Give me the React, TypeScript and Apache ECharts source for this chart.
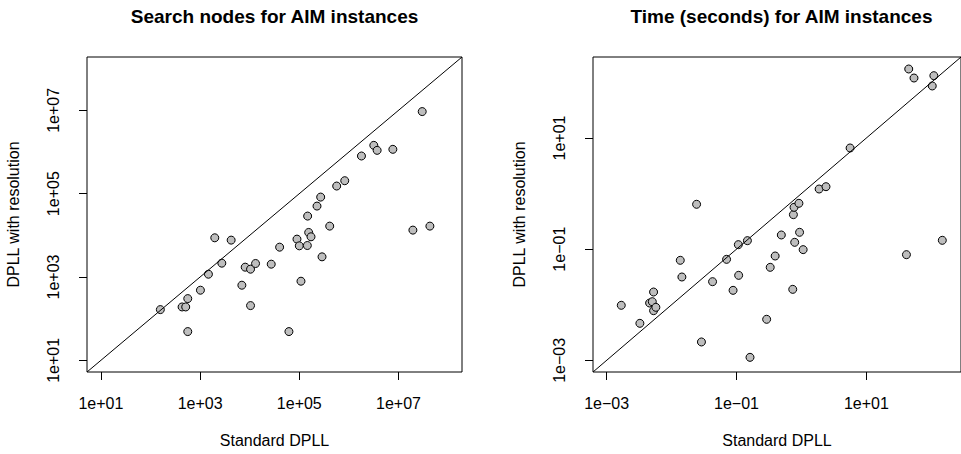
import React, { useEffect, useRef } from "react";
import * as echarts from "echarts";

// Search nodes (left panel): Standard DPLL vs DPLL with resolution
const nodesStandard = [
  158, 433, 513, 564, 564, 1016, 1472, 1977, 2742, 4227, 6950, 8110, 10400, 10400,
  13120, 27160, 40090, 61800, 89740, 100000, 108100, 145200, 147200, 154500, 172200,
  227500, 269800, 287100, 410200, 567500, 824100, 1791000, 3177000, 3707000, 7691000,
  19500000, 30060000, 42950000,
];
const nodesResolution = [
  165, 191, 191, 303, 49, 482, 1167, 8730, 2148, 7674, 635, 1722, 1542, 206,
  2109, 2032, 5200, 49, 8110, 5598, 792, 5702, 28970, 11720, 9226,
  50350, 82790, 3048, 16630, 152400, 204600, 801700, 1445000, 1096000, 1159000,
  13340, 9333000, 16630,
];

// Time in seconds (right panel)
const timeStandard = [
  0.00168, 0.00325, 0.00459, 0.00505, 0.00528, 0.00528, 0.00573, 0.01361, 0.01442,
  0.02427, 0.02884, 0.04276, 0.0703, 0.0885, 0.1067, 0.1079, 0.1472, 0.1614, 0.2911,
  0.3304, 0.3936, 0.4898, 0.7345, 0.7516, 0.7691, 0.787, 0.9141, 0.9354, 1.062,
  1.871, 2.388, 5.61, 41.4, 44.87, 54.08, 103.3, 109.4, 147.6,
];
const timeResolution = [
  0.00977, 0.00463, 0.01074, 0.01135, 0.01694, 0.00783, 0.00899, 0.063, 0.03155,
  0.6412, 0.00214, 0.026, 0.0656, 0.01816, 0.1205, 0.0338, 0.1422, 0.001132, 0.00547,
  0.0471, 0.0753, 0.1799, 0.01892, 0.4178, 0.5662, 0.1327, 0.6683, 0.2009, 0.098,
  1.208, 1.33, 6.607, 0.0796, 174.2, 119.9, 86.3, 132.1, 0.1442,
];

// Axis limits (log10) and tick exponents
const nodesLim = [0.72, 8.28];
const timeLim = [-3.21, 2.457];
const nodesTicks = [1, 3, 5, 7];
const timeTicks = [-3, -1, 1];

const titles = ["Search nodes for AIM instances", "Time (seconds) for AIM instances"];
const xName = "Standard DPLL";
const yName = "DPLL with resolution";

const FONT = "Liberation Sans, Arial, Helvetica, sans-serif";

function fmtExp(v: number): string {
  const e = Math.round(v);
  const sign = e < 0 ? "\u2212" : "+";
  return "1e" + sign + String(Math.abs(e)).padStart(2, "0");
}

function toLog(xs: number[], ys: number[]) {
  return xs.map((x, i) => [Math.log10(x), Math.log10(ys[i])]);
}

export default function App() {
  const ref = useRef<HTMLDivElement>(null);
  useEffect(() => {
    if (!ref.current) return;
    const chart = echarts.init(ref.current, undefined, { renderer: "svg" });
    const grids = [
      { left: 87, top: 57, width: 375, height: 315 },
      { left: 593, top: 57, width: 377, height: 315 },
    ];
    const lims = [nodesLim, timeLim];
    const ticks = [nodesTicks, timeTicks];
    const mkX = (i: number) => ({
      type: "value",
      gridIndex: i,
      min: lims[i][0],
      max: lims[i][1],
      splitLine: { show: false },
      axisLine: { show: false, onZero: false },
      axisTick: {
        show: true,
        length: 8,
        lineStyle: { color: "#000", width: 1 },
        customValues: ticks[i],
      },
      axisLabel: {
        customValues: ticks[i],
        formatter: fmtExp,
        margin: 23,
        fontSize: 16,
        color: "#000",
        fontFamily: FONT,
      },
      name: xName,
      nameLocation: "middle",
      nameGap: 60,
      nameTextStyle: { fontSize: 16, color: "#000", fontFamily: FONT },
    });
    const mkY = (i: number) => ({
      type: "value",
      gridIndex: i,
      min: lims[i][0],
      max: lims[i][1],
      splitLine: { show: false },
      axisLine: { show: false, onZero: false },
      axisTick: {
        show: true,
        length: 8,
        lineStyle: { color: "#000", width: 1 },
        customValues: ticks[i],
      },
      axisLabel: {
        customValues: ticks[i],
        formatter: fmtExp,
        rotate: 90,
        margin: 26,
        fontSize: 16,
        color: "#000",
        fontFamily: FONT,
      },
      name: yName,
      nameLocation: "middle",
      nameGap: 66,
      nameTextStyle: { fontSize: 16, color: "#000", fontFamily: FONT },
    });
    const scatter = (i: number, data: number[][]) => ({
      type: "scatter",
      xAxisIndex: i,
      yAxisIndex: i,
      data,
      symbol: "circle",
      symbolSize: 8,
      itemStyle: { color: "#bebebe", borderColor: "#000", borderWidth: 1, opacity: 1 },
      z: 2,
    });
    const diag = (i: number) => ({
      type: "line",
      xAxisIndex: i,
      yAxisIndex: i,
      data: [
        [lims[i][0], lims[i][0]],
        [lims[i][1], lims[i][1]],
      ],
      symbol: "none",
      lineStyle: { color: "#000", width: 1 },
      silent: true,
      z: 3,
    });
    chart.setOption({
      animation: false,
      grid: grids.map((g) => ({ ...g, show: true, borderColor: "#000", borderWidth: 1, backgroundColor: "transparent" })),
      xAxis: [mkX(0), mkX(1)],
      yAxis: [mkY(0), mkY(1)],
      graphic: [
        {
          type: "text",
          x: 274.5,
          y: 16.5,
          style: {
            text: titles[0],
            font: `bold 19px ${FONT}`,
            fill: "#000",
            textAlign: "center",
            textVerticalAlign: "middle",
          },
        },
        {
          type: "text",
          x: 781.5,
          y: 16.5,
          style: {
            text: titles[1],
            font: `bold 19px ${FONT}`,
            fill: "#000",
            textAlign: "center",
            textVerticalAlign: "middle",
          },
        },
      ],
      series: [
        scatter(0, toLog(nodesStandard, nodesResolution)),
        diag(0),
        scatter(1, toLog(timeStandard, timeResolution)),
        diag(1),
      ],
    });
    return () => chart.dispose();
  }, []);
  return (
    <div
      ref={ref}
      style={{ position: "fixed", left: 0, top: 0, width: 961, height: 454, background: "#fff" }}
    />
  );
}
